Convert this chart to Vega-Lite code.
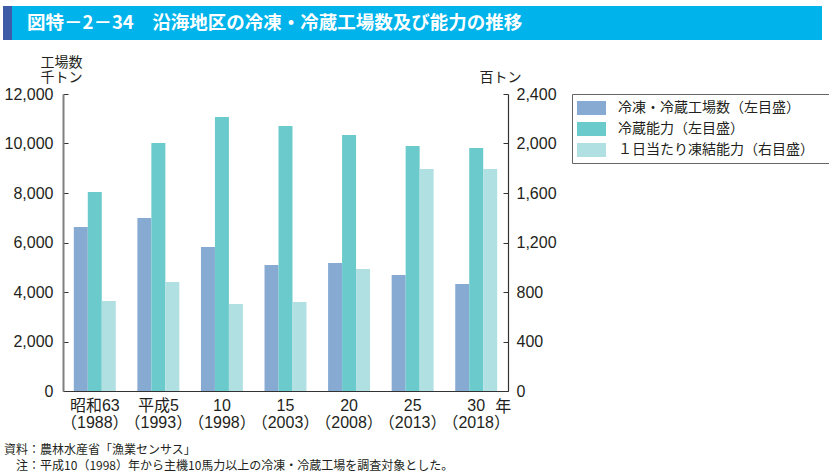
{
  "$schema": "https://vega.github.io/schema/vega-lite/v6.json",
  "background": "white",
  "padding": {"left": 3, "top": 6, "right": 2, "bottom": 0},
  "spacing": 15,
  "config": {"view": {"stroke": null}, "font": "Noto Sans CJK JP"},
  "resolve": {"legend": {"color": "independent"}, "scale": {"color": "independent"}},
  "vconcat": [
    {
      "spacing": 0,
      "hconcat": [
        {
          "width": 9, "height": 34,
          "view": {"fill": "#3E5BA8", "stroke": null},
          "data": {"values": [{"t": ""}]},
          "mark": {"type": "text"},
          "encoding": {"text": {"field": "t"}}
        },
        {
          "width": 810, "height": 34,
          "view": {"fill": "#00B4EB", "stroke": null},
          "data": {"values": [{"t": "図特－2－34　沿海地区の冷凍・冷蔵工場数及び能力の推移", "px": 0, "py": 0.5}]},
          "mark": {"type": "text", "align": "left", "baseline": "middle", "dx": 15, "color": "white", "font": "Noto Sans CJK JP", "fontSize": 18.5, "fontWeight": "bold"},
          "encoding": {
            "text": {"field": "t"},
            "x": {"field": "px", "type": "quantitative", "scale": {"domain": [0, 1]}, "axis": null},
            "y": {"field": "py", "type": "quantitative", "scale": {"domain": [0, 1]}, "axis": null}
          }
        }
      ]
    },
    {
      "spacing": 0,
      "resolve": {"legend": {"color": "independent"}, "scale": {"color": "independent"}},
      "hconcat": [
        {
          "width": 1, "height": 1,
          "data": {"values": [{"t": ""}]},
          "mark": {"type": "text"},
          "encoding": {"text": {"field": "t"}}
        },
        {
          "width": 445,
          "height": 297,
          "data": {"values": [
            {"period": "昭和63|（1988）", "series": "冷凍・冷蔵工場数（左目盛）", "axis": "left", "value": 6630},
            {"period": "昭和63|（1988）", "series": "冷蔵能力（左目盛）", "axis": "left", "value": 8040},
            {"period": "昭和63|（1988）", "series": "１日当たり凍結能力（右目盛）", "axis": "right", "value": 727},
            {"period": "平成5|（1993）", "series": "冷凍・冷蔵工場数（左目盛）", "axis": "left", "value": 6990},
            {"period": "平成5|（1993）", "series": "冷蔵能力（左目盛）", "axis": "left", "value": 10020},
            {"period": "平成5|（1993）", "series": "１日当たり凍結能力（右目盛）", "axis": "right", "value": 880},
            {"period": "10|（1998）", "series": "冷凍・冷蔵工場数（左目盛）", "axis": "left", "value": 5820},
            {"period": "10|（1998）", "series": "冷蔵能力（左目盛）", "axis": "left", "value": 11070},
            {"period": "10|（1998）", "series": "１日当たり凍結能力（右目盛）", "axis": "right", "value": 703},
            {"period": "15|（2003）", "series": "冷凍・冷蔵工場数（左目盛）", "axis": "left", "value": 5090},
            {"period": "15|（2003）", "series": "冷蔵能力（左目盛）", "axis": "left", "value": 10710},
            {"period": "15|（2003）", "series": "１日当たり凍結能力（右目盛）", "axis": "right", "value": 719},
            {"period": "20|（2008）", "series": "冷凍・冷蔵工場数（左目盛）", "axis": "left", "value": 5170},
            {"period": "20|（2008）", "series": "冷蔵能力（左目盛）", "axis": "left", "value": 10340},
            {"period": "20|（2008）", "series": "１日当たり凍結能力（右目盛）", "axis": "right", "value": 986},
            {"period": "25|（2013）", "series": "冷凍・冷蔵工場数（左目盛）", "axis": "left", "value": 4690},
            {"period": "25|（2013）", "series": "冷蔵能力（左目盛）", "axis": "left", "value": 9900},
            {"period": "25|（2013）", "series": "１日当たり凍結能力（右目盛）", "axis": "right", "value": 1794},
            {"period": "30|（2018）", "series": "冷凍・冷蔵工場数（左目盛）", "axis": "left", "value": 4320},
            {"period": "30|（2018）", "series": "冷蔵能力（左目盛）", "axis": "left", "value": 9820},
            {"period": "30|（2018）", "series": "１日当たり凍結能力（右目盛）", "axis": "right", "value": 1794}
          ]},
          "title": {
            "text": ["資料：農林水産省「漁業センサス」", "\u200B\u3000注：平成10（1998）年から主機10馬力以上の冷凍・冷蔵工場を調査対象とした。"],
            "orient": "bottom", "anchor": "start", "frame": "bounds", "offset": 15,
            "font": "Noto Sans CJK JP", "fontSize": 12, "fontWeight": "normal", "color": "#231F20", "lineHeight": 16
          },
          "encoding": {
            "x": {
              "field": "period", "type": "nominal",
              "sort": ["昭和63|（1988）", "平成5|（1993）", "10|（1998）", "15|（2003）", "20|（2008）", "25|（2013）", "30|（2018）"],
              "scale": {"paddingInner": 0.34, "paddingOuter": 0.17},
              "axis": {
                "title": null, "labelAngle": 0, "ticks": false, "labelExpr": "split(datum.label, '|')",
                "labelFont": "Liberation Sans, Noto Sans CJK JP", "labelFontSize": 16, "labelColor": "#231F20",
                "labelLineHeight": 17, "labelPadding": 6, "labelOverlap": false, "labelBaseline": "top",
                "domainColor": "#333333", "domainWidth": 1
              }
            }
          },
          "layer": [
            {
              "transform": [{"filter": "datum.axis == 'left'"}],
              "mark": {"type": "bar"},
              "encoding": {
                "xOffset": {
                  "field": "series", "type": "nominal",
                  "scale": {"domain": ["冷凍・冷蔵工場数（左目盛）", "冷蔵能力（左目盛）", "１日当たり凍結能力（右目盛）"], "paddingInner": 0, "paddingOuter": 0}
                },
                "color": {
                  "field": "series", "type": "nominal",
                  "scale": {"domain": ["冷凍・冷蔵工場数（左目盛）", "冷蔵能力（左目盛）", "１日当たり凍結能力（右目盛）"], "range": ["#87AAD2", "#6BCACB", "#B1E0E3"]},
                  "legend": {
                    "orient": "none", "legendX": 509, "legendY": 0, "title": null,
                    "symbolType": "M-1,-0.78H2.22V0.78H-1Z", "symbolSize": 324, "symbolStrokeWidth": 0, "symbolOpacity": 1,
                    "labelFont": "Noto Sans CJK JP", "labelFontSize": 14, "labelColor": "#231F20", "labelOffset": 23,
                    "labelLimit": 400, "labelExpr": "datum.label + '\u3000\u2002\u200B'",
                    "rowPadding": 4, "padding": 5, "strokeColor": "#666666", "fillColor": "white"
                  }
                },
                "y": {
                  "field": "value", "type": "quantitative",
                  "scale": {"domain": [0, 12000]},
                  "axis": {
                    "title": ["工場数", "千トン"], "titleAngle": 0, "titleAlign": "center", "titleBaseline": "top",
                    "titleX": -2, "titleY": -39, "titleFont": "Noto Sans CJK JP", "titleFontSize": 14, "titleFontWeight": "normal",
                    "titleLineHeight": 15, "titleColor": "#231F20",
                    "values": [0, 2000, 4000, 6000, 8000, 10000, 12000], "format": ",d",
                    "labelFont": "Liberation Sans", "labelFontSize": 16, "labelColor": "#231F20", "labelPadding": 15,
                    "tickSize": -5, "tickColor": "#333333", "domainColor": "#808080", "domainWidth": 2, "grid": false
                  }
                }
              }
            },
            {
              "transform": [{"filter": "datum.axis == 'right'"}],
              "mark": {"type": "bar"},
              "encoding": {
                "xOffset": {
                  "field": "series", "type": "nominal",
                  "scale": {"domain": ["冷凍・冷蔵工場数（左目盛）", "冷蔵能力（左目盛）", "１日当たり凍結能力（右目盛）"], "paddingInner": 0, "paddingOuter": 0}
                },
                "color": {
                  "field": "series", "type": "nominal",
                  "scale": {"domain": ["冷凍・冷蔵工場数（左目盛）", "冷蔵能力（左目盛）", "１日当たり凍結能力（右目盛）"], "range": ["#87AAD2", "#6BCACB", "#B1E0E3"]},
                  "legend": {
                    "orient": "none", "legendX": 509, "legendY": 0, "title": null,
                    "symbolType": "M-1,-0.78H2.22V0.78H-1Z", "symbolSize": 324, "symbolStrokeWidth": 0, "symbolOpacity": 1,
                    "labelFont": "Noto Sans CJK JP", "labelFontSize": 14, "labelColor": "#231F20", "labelOffset": 23,
                    "labelLimit": 400, "labelExpr": "datum.label + '\u3000\u2002\u200B'",
                    "rowPadding": 4, "padding": 5, "strokeColor": "#666666", "fillColor": "white"
                  }
                },
                "y": {
                  "field": "value", "type": "quantitative",
                  "scale": {"domain": [0, 2400]},
                  "axis": {
                    "orient": "right",
                    "title": "百トン", "titleAngle": 0, "titleAlign": "center", "titleBaseline": "top",
                    "titleX": -8, "titleY": -24, "titleFont": "Noto Sans CJK JP", "titleFontSize": 14, "titleFontWeight": "normal",
                    "titleColor": "#231F20",
                    "values": [0, 400, 800, 1200, 1600, 2000, 2400], "format": ",d",
                    "labelFont": "Liberation Sans", "labelFontSize": 16, "labelColor": "#231F20", "labelPadding": 13,
                    "tickSize": -5, "tickColor": "#333333", "domainColor": "#333333", "domainWidth": 1.2, "grid": false
                  }
                }
              }
            },
            {
              "data": {"values": [{"period": "30|（2018）", "unit": "年", "base": 0}]},
              "mark": {"type": "text", "align": "center", "baseline": "middle", "dx": 27, "dy": 16, "font": "Noto Sans CJK JP", "fontSize": 16, "color": "#231F20"},
              "encoding": {
                "text": {"field": "unit"},
                "y": {"field": "base", "type": "quantitative", "scale": {"domain": [0, 12000]}, "axis": null}
              }
            }
          ],
          "resolve": {"scale": {"y": "independent"}}
        }
      ]
    }
  ]
}
